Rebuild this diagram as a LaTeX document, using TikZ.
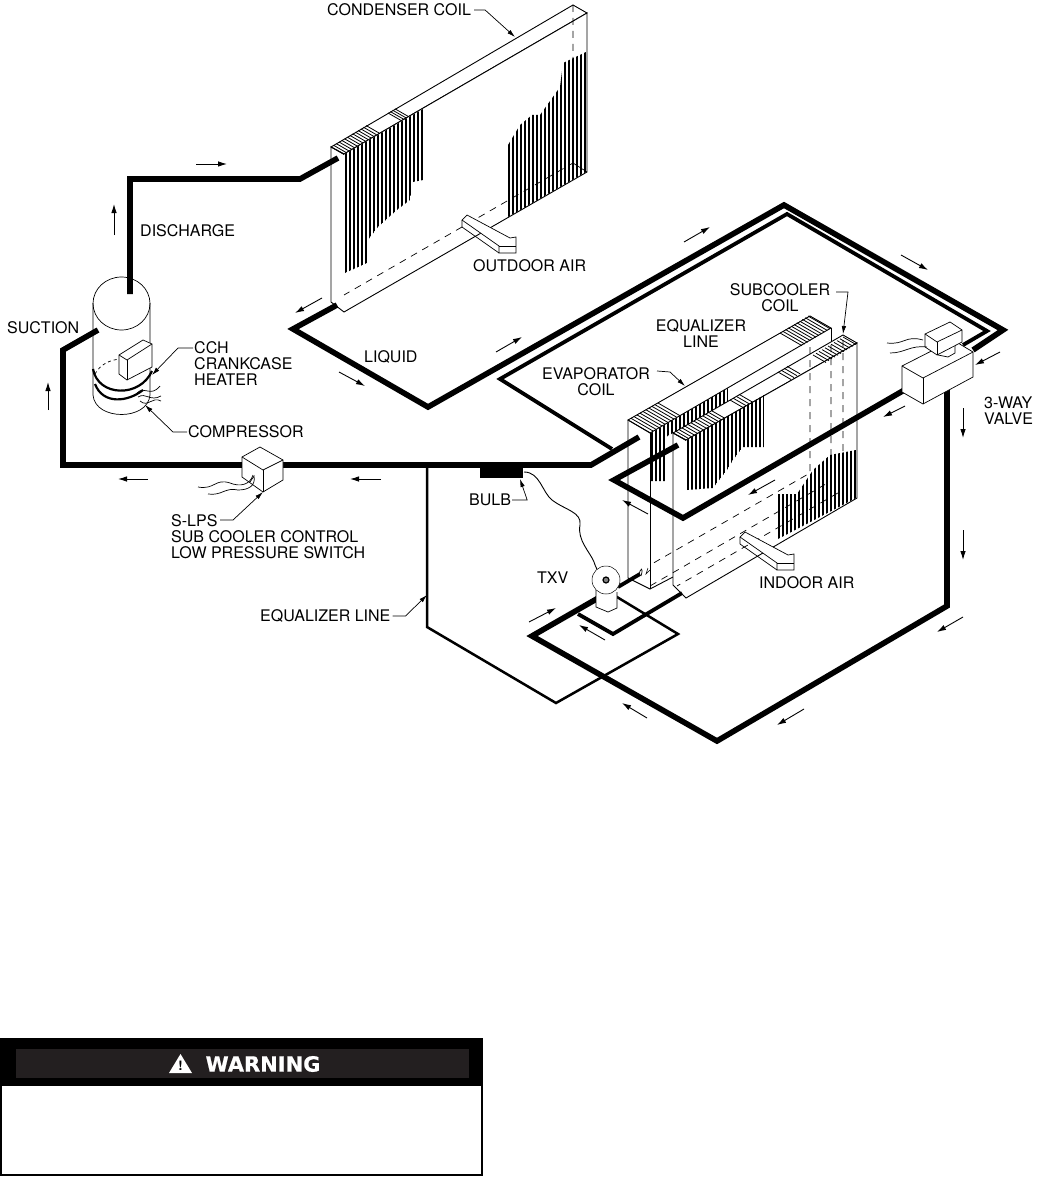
\documentclass[tikz,border=0pt]{standalone}
\usepackage{fontspec}
\usetikzlibrary{arrows.meta}
\setmainfont{TeX Gyre Heros}
\newfontfamily\warnfont[BoldFeatures={FakeBold=0.7}]{DejaVu Sans}

\definecolor{warnstrip}{HTML}{231F20}

\tikzset{
  pipe/.style={line width=5.6pt},
  smallpipe/.style={line width=3.8pt},
  eqline/.style={line width=2.5pt},
  coil/.style={line width=0.9pt, fill=white},
  thinpart/.style={line width=0.7pt},
  hidden/.style={line width=0.7pt, dash pattern=on 7pt off 6pt},
  fin/.style={line width=1.8pt},
  topfin/.style={line width=0.8pt},
  flowarrow/.style={-{Latex[length=9pt,width=5.5pt]}, line width=0.9pt},
  leader/.style={-{Latex[length=8pt,width=4.5pt]}, line width=0.7pt},
  label/.style={font=\fontsize{16}{16}\selectfont, align=left, inner sep=0pt},
  clabel/.style={font=\fontsize{16}{16}\selectfont, align=center, inner sep=0pt},
  airarrow/.pic={
    \draw[thinpart, fill=white] (0,0) -- (5,-5) -- (48,18) -- (54,17) -- (54,33)
      -- (37,33) -- (37,26) -- cycle;
    \draw[thinpart] (0,0) -- (0,7) -- (37,33);
    \draw[thinpart] (37,26) -- (54,26);
  }
}

% vertical fins, from x to x with step 4, clipped to a polygon
\newcommand{\finrow}[3]{
  \begin{scope}
    \clip #3;
    \foreach \x in {#1,...,#2}
      \draw[fin] (\x,0) -- (\x,800);
  \end{scope}
}
% band of short lines on top of a coil
\newcommand{\finband}[7]{
  \foreach \k in {0,...,#3}
    \draw[topfin] ({#1+\k*#4},{#2+\k*#5}) -- ++(#6,#7);
}

\begin{document}
\begin{tikzpicture}[x=1pt,y=-1pt]

\useasboundingbox (0,0) rectangle (1036,1177);

% Condenser coil
\draw[coil] (331,147) -- (573,5) -- (587,13) -- (344,154) -- cycle;
\draw[coil] (331,147) -- (331,302) -- (344,312) -- (587,172) -- (587,13) -- (344,154) -- cycle;
\draw[hidden] (573,5) -- (573,163) -- (344,295);
\draw[thinpart] (573,163) -- (587,172);
\finrow{346,350}{423}{(345,154) -- (423,109) -- (423,180) -- (413,182) -- (410,200) -- (397,210)
  -- (378,227) -- (368,240) -- (367,263) -- (345,273) -- cycle}
\finrow{509,513}{586}{(508,145) -- (520,125) -- (532,115) -- (540,115) -- (560,87) -- (563,63)
  -- (586,52) -- (586,172) -- (508,217) -- cycle}
\finband{331}{147}{13}{2.7}{-1.65}{13}{7.5}
\finband{388}{113}{3}{2.3}{-1.4}{14}{8}

% Outdoor air
\pic at (462,220) {airarrow};

% Evaporator coil
\draw[coil] (628,420) -- (810,316) -- (831,328) -- (650,433) -- cycle;
\draw[coil] (628,420) -- (628,578) -- (650,589) -- (673,577);
\draw[line width=0.9pt] (650,433) -- (650,589);
\draw[line width=0.9pt] (831,328) -- (831,345);
\finrow{652,656}{728}{(651,433) -- (728,388) -- (728,405) -- (673,433) -- (666,437) -- (666,481)
  -- (651,481) -- cycle}
\finband{628}{420}{10}{3}{-1.7}{22}{12.7}
\finband{780}{333}{10}{2.8}{-1.7}{22}{12.7}

% Subcooler coil
\draw[coil] (673,433) -- (843,335) -- (857,343) -- (686,440) -- cycle;
\draw[coil] (673,433) -- (673,585) -- (686,598) -- (857,498) -- (857,343) -- (686,440) -- cycle;
\finrow{688,692}{764}{(687,440) -- (764,395) -- (764,447) -- (743,447) -- (733,460) -- (727,470)
  -- (713,488) -- (687,490) -- cycle}
\finrow{779,783}{856}{(778,494) -- (797,494) -- (813,470) -- (830,455) -- (856,450) -- (856,498)
  -- (778,539) -- cycle}
\draw[hidden] (810,347) -- (810,473) -- (650,565);
\draw[hidden] (831,345) -- (831,481) -- (650,586);
\draw[hidden] (843,340) -- (843,490) -- (677,586);
\finband{673}{433}{13}{3}{-1.7}{13}{7.5}
\finband{730}{400}{3}{3}{-1.9}{13}{7.5}
\finband{778}{372}{3}{3}{-1.9}{13}{7.5}
\finband{813}{355}{10}{3}{-1.8}{13}{7.5}

% Indoor air
\pic at (740,537) {airarrow};

% Equalizer line
\draw[eqline] (427,465) -- (427,627) -- (556,703) -- (678,634) -- (612,594);

% Compressor
\draw[thinpart] (121.5,303.5) ellipse [x radius=28.5, y radius=26.5];
\draw[thinpart] (93,303) -- (93,395) .. controls (95,421) and (148,421) .. (150,395) -- (150,303);
\draw[thinpart, dashed] (95,374) .. controls (105,355) and (135,355) .. (148,368);
\draw[line width=2.2pt] (93,369) .. controls (98,397) and (140,398) .. (152,371);
\draw[line width=2.2pt] (95,384) .. controls (103,405) and (128,402) .. (143,390);
\draw[thinpart] (137,393) .. controls (145,385) and (150,398) .. (160,386);
\draw[thinpart] (138,397) .. controls (146,392) and (150,402) .. (161,396);
\draw[thinpart] (140,401) .. controls (148,408) and (152,396) .. (161,401);
\draw[thinpart, fill=white] (119,355) -- (143,340) -- (152,344) -- (152,367) -- (127,380) -- (119,374) -- cycle;
\draw[thinpart] (119,355) -- (127,360) -- (152,344);
\draw[thinpart] (127,360) -- (127,380);

% Pipes
\draw[pipe] (130,294) -- (130,179) -- (300,179) -- (338,158);
\draw[pipe] (98,330) -- (63,350) -- (63,465) -- (591,465) -- (639,437);
\draw[pipe] (337,305) -- (293,329) -- (428,407) -- (784,205) -- (1003,330) -- (973,350);
\draw[smallpipe] (612,449) -- (500,379) -- (787,214) -- (987,331) -- (963,345);
\draw[pipe] (913,385) -- (683,518) -- (614,480) -- (678,445);
\draw[pipe] (947,390) -- (947,606) -- (717,741) -- (532,636) -- (600,597);
\draw[smallpipe] (578,614) -- (613,634) -- (682,593);
\draw[smallpipe] (618,587) -- (640,574);

% Low pressure switch
\draw[thinpart, fill=white] (242,457) -- (260,447) -- (283,460) -- (283,480) -- (263,492) -- (242,477) -- cycle;
\draw[thinpart] (242,457) -- (263,470) -- (283,460);
\draw[thinpart] (263,470) -- (263,492);
\draw[thinpart] (198,487) .. controls (215,490) and (215,478) .. (230,483) .. controls (240,487) and (250,485) .. (253,475);
\draw[thinpart] (208,494) .. controls (222,496) and (225,487) .. (238,490) .. controls (248,490) and (256,486) .. (254,476) -- (250,482);

% 3-way valve
\draw[thinpart, fill=white] (902,366) -- (953,340) -- (973,352) -- (973,377) -- (923,404) -- (902,392) -- cycle;
\draw[thinpart] (902,366) -- (923,378) -- (973,352);
\draw[thinpart] (923,378) -- (923,404);
\draw[thinpart, fill=white] (938,350) -- (938,355) -- (948,357) -- (955,353) -- (955,340) -- cycle;
\draw[thinpart, fill=white] (925,334) -- (950,322) -- (962,330) -- (962,342) -- (937,355) -- (925,347) -- cycle;
\draw[thinpart] (925,334) -- (937,342) -- (962,330);
\draw[thinpart] (937,342) -- (937,355);
\draw[thinpart] (887,343) .. controls (905,345) and (905,335) .. (923,340);
\draw[thinpart] (890,353) .. controls (905,353) and (910,345) .. (927,347);

% Bulb and TXV
\fill (480,463) rectangle (523,478);
\draw[line width=0.9pt] (524,472) .. controls (540,472) and (542,492) .. (552,500)
  .. controls (565,510) and (582,512) .. (580,525) .. controls (577,540) and (590,552) .. (594,562)
  .. controls (597,572) and (602,576) .. (606,580);
\draw[thinpart, fill=white] (596,590) -- (596,607) -- (608,612) -- (617,608) -- (617,592);
\draw[line width=0.5pt, fill=white] (606,580) circle [radius=14];
\draw[line width=1.2pt, fill=gray] (606,580) circle [radius=3];
\draw[thinpart] (639,575) .. controls (640,568) and (644,566) .. (641,576);
\draw[line width=0.5pt] (648,568) -- (646,574) -- (650,570);

% Flow arrows
\draw[flowarrow] (196,164) -- (227,164);
\draw[flowarrow] (114,235) -- (114,204);
\draw[flowarrow] (48,410) -- (48,382);
\draw[flowarrow] (148,479) -- (118,479);
\draw[flowarrow] (381,479) -- (350,479);
\draw[flowarrow] (322,298) -- (295,313);
\draw[flowarrow] (339,372) -- (365,386);
\draw[flowarrow] (496,352) -- (522,337);
\draw[flowarrow] (684,242) -- (710,227);
\draw[flowarrow] (901,255) -- (928,270);
\draw[flowarrow] (1000,352) -- (975,365);
\draw[flowarrow] (905,406) -- (883,417);
\draw[flowarrow] (963,408) -- (963,438);
\draw[flowarrow] (963,530) -- (963,560);
\draw[flowarrow] (963,617) -- (937,632);
\draw[flowarrow] (804,709) -- (777,725);
\draw[flowarrow] (647,718) -- (622,703);
\draw[flowarrow] (529,622) -- (556,608);
\draw[flowarrow] (605,640) -- (579,625);
\draw[flowarrow] (648,514) -- (622,500);
\draw[flowarrow] (775,480) -- (748,495);

% Labels
\node[label, anchor=west] (condenser) at (327,10) {CONDENSER COIL};
\node[label, anchor=west] (discharge) at (140,231) {DISCHARGE};
\node[label, anchor=west] (outdoor) at (473,266) {OUTDOOR AIR};
\node[label, anchor=west] (suction) at (7,328) {SUCTION};
\node[label, anchor=west] (liquid) at (364,357) {LIQUID};
\node[label, anchor=west] (cch) at (194,364) {CCH\\CRANKCASE\\HEATER};
\node[label, anchor=west] (compressor) at (188,432) {COMPRESSOR};
\node[label, anchor=north west] (slps) at (171,514) {S-LPS\\SUB COOLER CONTROL\\LOW PRESSURE SWITCH};
\node[label, anchor=west] (bulb) at (469,500) {BULB};
\node[label, anchor=west] (txv) at (537,578) {TXV};
\node[label, anchor=west] (eqlabel) at (260,616) {EQUALIZER LINE};
\node[label, anchor=west] (indoor) at (759,583) {INDOOR AIR};
\node[clabel] (subcooler) at (780,298) {SUBCOOLER\\COIL};
\node[clabel] (equalizer) at (701,334) {EQUALIZER\\LINE};
\node[clabel] (evaporator) at (596,382) {EVAPORATOR\\COIL};
\node[label, anchor=west] (valve) at (984,411) {3-WAY\\VALVE};

% Leaders
\coordinate (condtip) at (515,37);
\coordinate (cchtip) at (152,375);
\coordinate (comptip) at (145,405);
\coordinate (slpstip) at (263,492);
\coordinate (bulbtip) at (520,479);
\coordinate (eqtip) at (427,595);
\coordinate (subtip) at (843,334);
\coordinate (evaptip) at (685,386);

\draw[leader] (condenser.east) ++(3,0) -- ++(11,0) -- (condtip);
\draw[leader] (193,348) -- (178,348) -- (cchtip);
\draw[leader] (compressor.west) ++(-1,0) -- ++(-14,0) -- (comptip);
\draw[leader] (220,520) -- (233,520) -- (slpstip);
\draw[leader] (bulb.east) ++(1,0) -- ++(15,0) -- (bulbtip);
\draw[leader] (eqlabel.east) ++(2,0) -- ++(13,0) -- (eqtip);
\draw[leader] (836,292) -- (848,292) -- (subtip);
\draw[leader] (657,371) -- (670,372) -- (evaptip);

% Warning box
\fill[black] (1,1039) rectangle (483,1086);
\draw[line width=2pt] (1,1039) rectangle (482,1175);
\fill[warnstrip] (16,1049) rectangle (469,1078);
\fill[white] (169,1073) -- (192,1073) -- (180.5,1054) -- cycle;
\node[inner sep=0pt, font=\bfseries\fontsize{13}{13}\selectfont] (bang) at (180.5,1066) {!};
\node[inner sep=0pt, text=white, font=\warnfont\bfseries\fontsize{21}{21}\selectfont] (warning) at (263,1064) {WARNING};

\end{tikzpicture}
\end{document}
